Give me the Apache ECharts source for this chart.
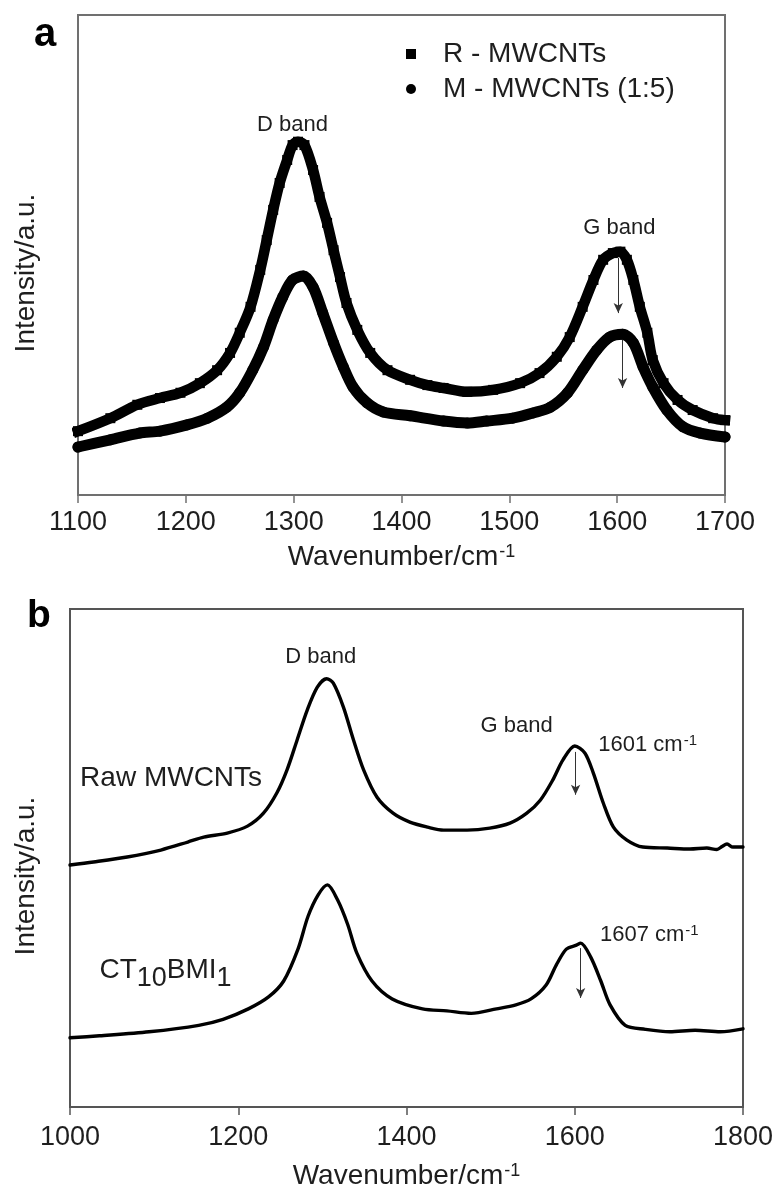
<!DOCTYPE html>
<html><head><meta charset="utf-8">
<script src="https://cdn.jsdelivr.net/npm/echarts@6/dist/echarts.min.js"></script>
<style>html,body{margin:0;padding:0;background:#fff}#c{width:779px;height:1195px}</style>
</head><body><div id="c"></div>
<script>
// ---------- Panel a data (wavenumber / cm-1, intensity a.u.) ----------
const aTicks = [1100, 1200, 1300, 1400, 1500, 1600, 1700];
const aWavenumberR = [1100,1130,1155,1176,1195,1213,1229,1241,1250,1260,1269,1275,1281,1287,1294,1299,1304,1310,1318,1324,1331,1337,1343,1349,1359,1371,1387,1408,1424,1439,1461,1485,1510,1528,1544,1556,1568,1578,1587,1596,1603,1609,1615,1621,1628,1633,1643,1656,1670,1689,1700];
const aIntensityR = [13.3,16.0,18.8,20.2,21.3,23.3,26.0,29.6,33.8,39.2,46.9,53.1,59.4,65.0,69.8,72.9,73.6,72.9,67.7,62.1,56.7,51.0,45.4,40.0,34.4,29.6,26.0,24.0,22.9,22.3,21.5,21.9,23.3,25.4,28.8,32.9,39.2,44.8,49.0,50.4,50.7,49.0,44.8,39.2,33.8,28.1,23.3,19.8,17.7,16.0,15.6];
const aWavenumberM = [1100,1130,1157,1176,1201,1220,1238,1250,1262,1272,1281,1290,1299,1309,1318,1327,1337,1346,1355,1368,1383,1408,1439,1461,1479,1503,1522,1538,1554,1568,1581,1593,1605,1615,1624,1633,1646,1661,1677,1700];
const aIntensityM = [10.0,11.5,12.9,13.3,14.6,16.0,18.3,21.3,26.0,30.8,36.5,41.3,44.8,45.6,43.3,37.9,31.7,26.7,22.5,19.2,17.3,16.5,15.4,15.0,15.4,16.0,17.1,18.3,21.3,26.0,30.2,32.9,33.5,31.7,26.7,22.5,17.7,14.2,12.9,12.1];
const aSeriesNames = ['R - MWCNTs', 'M - MWCNTs (1:5)'];

// ---------- Panel b data ----------
const bTicks = [1000, 1200, 1400, 1600, 1800];
const bWavenumberRaw = [1000,1028,1068,1108,1140,1159,1187,1211,1230,1246,1258,1270,1282,1294,1305,1313,1325,1337,1349,1365,1384,1404,1425,1444,1472,1499,1523,1543,1559,1574,1586,1600,1612,1622,1634,1646,1662,1681,1710,1737,1757,1769,1775,1781,1788,1800];
const bIntensityRaw = [48.6,49.2,50.2,51.6,53.2,54.2,55.0,56.4,59.0,63.1,67.7,73.7,79.7,84.3,86.0,85.1,80.3,73.7,67.7,62.2,59.0,57.2,56.2,55.6,55.6,56.0,57.0,59.0,61.6,65.7,69.7,72.5,71.1,67.1,61.0,56.2,53.6,52.2,52.0,51.8,52.0,51.7,52.3,52.8,52.2,52.2];
const bWavenumberCT = [1000,1035,1094,1153,1182,1212,1236,1254,1271,1283,1295,1306,1318,1330,1341,1359,1383,1419,1448,1477,1507,1530,1548,1566,1578,1590,1602,1607,1619,1631,1642,1660,1684,1713,1743,1773,1800];
const bIntensityCT = [13.9,14.3,15.1,16.4,17.6,19.7,22.1,25.3,31.7,38.3,42.6,44.6,41.6,36.7,30.9,25.3,21.7,19.7,19.3,18.8,19.7,20.5,21.7,24.5,28.5,31.7,32.5,32.9,30.1,25.3,20.5,16.4,15.6,15.1,15.4,15.1,15.7];
const bSeriesNames = ['Raw MWCNTs', 'CT10BMI1'];

// ---------- Annotations (data coordinates) ----------
const annotA = [
  {text: 'D band', x: 1299, y: 77.1},
  {text: 'G band', x: 1602, y: 55.6}
];
const arrowsA = [[1601, 49.4, 37.9], [1605, 32.3, 22.3]];
const annotB = [
  {text: 'D band', x: 1298, y: 90.4, align: 'center'},
  {text: 'G band', x: 1531, y: 76.5, align: 'center'},
  {text: '1601 cm{sup|-1}', x: 1628, y: 72.7, align: 'left'},
  {text: '1607 cm{sup|-1}', x: 1630, y: 34.5, align: 'left'}
];
const seriesLabelsB = [
  {text: '{m|Raw MWCNTs}', x: 1012, y: 66.1},
  {text: '{m|CT}{s|10}{m|BMI}{s|1}', x: 1035, y: 26.7}
];
const arrowsB = [[1601, 71.3, 62.7], [1607, 31.9, 21.9]];

const FONT = '"Liberation Sans", Arial, Helvetica, sans-serif';
const TXT = '#1e1e1e';
const zip = (xs, ys) => xs.map((x, i) => [x, ys[i]]);

function xAxisCfg(grid, min, max, interval, color, margin, gap) {
  return {
    gridIndex: grid, type: 'value', min, max, interval,
    axisLine: {show: true, onZero: false, lineStyle: {color, width: 2}},
    axisTick: {show: true, inside: false, length: 8, lineStyle: {color, width: 1.5}},
    axisLabel: {fontSize: 27, color: TXT, margin, fontFamily: FONT, formatter: v => String(v)},
    splitLine: {show: false},
    name: 'Wavenumber/cm{sup|-1}', nameLocation: 'middle', nameGap: gap,
    nameTextStyle: {fontSize: 28, color: TXT, fontFamily: FONT,
      rich: {sup: {fontSize: 18, color: TXT, fontFamily: FONT, verticalAlign: 'top', padding: [0, 0, 10, 1]}}}
  };
}
function yAxisCfg(grid, color, gap) {
  return {
    gridIndex: grid, type: 'value', min: 0, max: 100,
    axisLine: {show: true, onZero: false, lineStyle: {color, width: 2}},
    axisTick: {show: false}, axisLabel: {show: false}, splitLine: {show: false},
    name: 'Intensity/a.u.', nameLocation: 'middle', nameGap: gap,
    nameTextStyle: {fontSize: 28, color: TXT, fontFamily: FONT, padding: [0, 36, 0, 0]}
  };
}
function arrowLine(arr) {
  return {
    silent: true, animation: false,
    symbol: ['none', 'arrow'], symbolSize: [7, 10],
    lineStyle: {color: '#333', width: 1, type: 'solid'},
    label: {show: false},
    data: arr.map(a => [{coord: [a[0], a[1]]}, {coord: [a[0], a[2]]}])
  };
}

const chart = echarts.init(document.getElementById('c'), null, {renderer: 'canvas'});
const option = {
  animation: false,
  backgroundColor: '#fff',
  grid: [
    {left: 78, top: 15, width: 647, height: 480, show: true, borderColor: '#707070', borderWidth: 2, backgroundColor: 'transparent'},
    {left: 70, top: 609, width: 673, height: 498, show: true, borderColor: '#555', borderWidth: 2, backgroundColor: 'transparent'}
  ],
  xAxis: [
    xAxisCfg(0, aTicks[0], aTicks[aTicks.length - 1], aTicks[1] - aTicks[0], '#707070', 14, 48),
    xAxisCfg(1, bTicks[0], bTicks[bTicks.length - 1], bTicks[1] - bTicks[0], '#555', 17, 55)
  ],
  yAxis: [yAxisCfg(0, '#707070', 38), yAxisCfg(1, '#555', 30)],
  legend: {
    orient: 'vertical', left: 401, top: 35, itemGap: 7, itemWidth: 10, itemHeight: 10,
    selectedMode: false,
    textStyle: {fontSize: 28, color: TXT, fontFamily: FONT, padding: [0, 0, 0, 22], lineHeight: 28},
    data: [{name: aSeriesNames[0], icon: 'rect'}, {name: aSeriesNames[1], icon: 'circle'}]
  },
  series: [
    {
      name: aSeriesNames[0], type: 'line', xAxisIndex: 0, yAxisIndex: 0,
      data: zip(aWavenumberR, aIntensityR), smooth: 0.3,
      symbol: 'rect', symbolSize: 10, showSymbol: true,
      itemStyle: {color: '#000'}, lineStyle: {color: '#000', width: 10.5, cap: 'square', join: 'miter'},
      markLine: arrowLine(arrowsA.slice(0, 1))
    },
    {
      name: aSeriesNames[1], type: 'line', xAxisIndex: 0, yAxisIndex: 0,
      data: zip(aWavenumberM, aIntensityM), smooth: 0.3,
      symbol: 'circle', symbolSize: 11, showSymbol: true,
      itemStyle: {color: '#000'}, lineStyle: {color: '#000', width: 11, cap: 'round', join: 'round'},
      markLine: arrowLine(arrowsA.slice(1))
    },
    {
      name: bSeriesNames[0], type: 'line', xAxisIndex: 1, yAxisIndex: 1,
      data: zip(bWavenumberRaw, bIntensityRaw), smooth: 0.3, showSymbol: false,
      lineStyle: {color: '#000', width: 3.4, join: 'round', cap: 'round'},
      markLine: arrowLine(arrowsB.slice(0, 1))
    },
    {
      name: bSeriesNames[1], type: 'line', xAxisIndex: 1, yAxisIndex: 1,
      data: zip(bWavenumberCT, bIntensityCT), smooth: 0.3, showSymbol: false,
      lineStyle: {color: '#000', width: 3.4, join: 'round', cap: 'round'},
      markLine: arrowLine(arrowsB.slice(1))
    }
  ]
};
chart.setOption(option);

const graphics = [];
const supRich = {sup: {fontSize: 15, fill: TXT, fontFamily: FONT, verticalAlign: 'top', padding: [0, 0, 8, 1]}};
function addText(grid, a, fontSize, align, rich) {
  const p = chart.convertToPixel({gridIndex: grid}, [a.x, a.y]);
  graphics.push({type: 'text', x: p[0], y: p[1], silent: true, z: 10,
    style: {text: a.text, fontSize, fontFamily: FONT, fill: TXT, align, verticalAlign: 'middle', rich}});
}
annotA.forEach(a => addText(0, a, 22, 'center', supRich));
annotB.forEach(a => addText(1, a, 22, a.align, supRich));
const subRich = {
  m: {fontSize: 28, fill: TXT, fontFamily: FONT, verticalAlign: 'top'},
  s: {fontSize: 27, fill: TXT, fontFamily: FONT, verticalAlign: 'top', padding: [9, 0, 0, 0]}
};
seriesLabelsB.forEach(a => addText(1, a, 28, 'left', subRich));
graphics.push({type: 'text', left: 34, top: 15, silent: true,
  style: {text: 'a', fontSize: 40, fontWeight: 'bold', fontFamily: FONT, fill: '#000'}});
graphics.push({type: 'text', left: 27, top: 597, silent: true,
  style: {text: 'b', fontSize: 39, fontWeight: 'bold', fontFamily: FONT, fill: '#000'}});
chart.setOption({graphic: graphics});
</script></body></html>
